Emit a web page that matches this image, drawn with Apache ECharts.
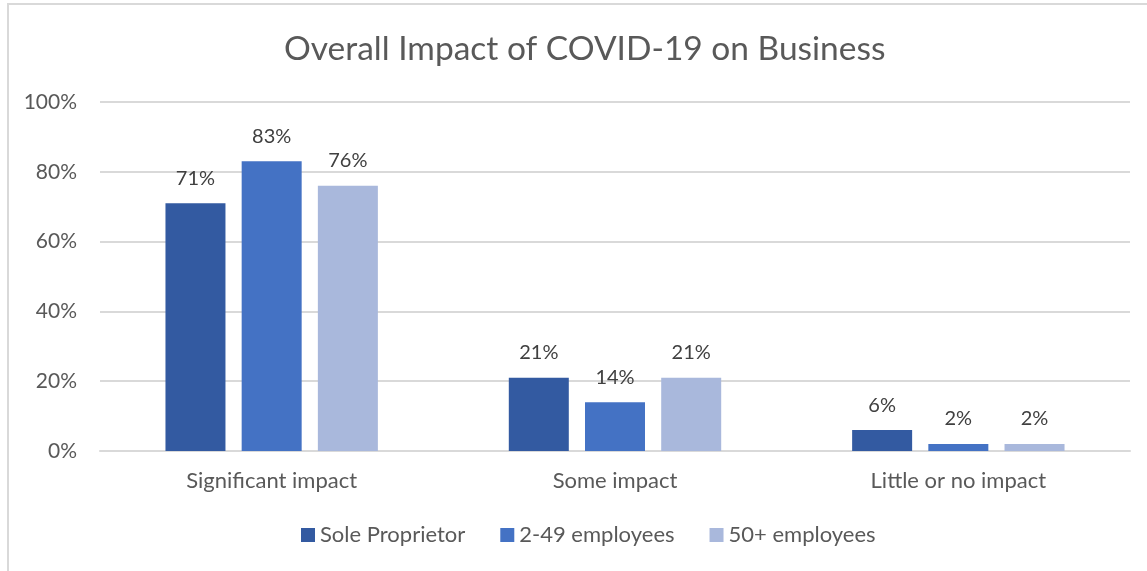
<!DOCTYPE html>
<html>
<head>
<meta charset="utf-8">
<script src="https://cdn.jsdelivr.net/npm/echarts@6/dist/echarts.min.js"></script>
<style>
  html, body { margin: 0; padding: 0; background: #fff; }
  #frame { position: absolute; left: 7px; top: 3px; width: 1150px; height: 580px; border: 2px solid #d9d9d9; box-sizing: border-box; }
  #chart { position: absolute; left: 0; top: 0; width: 1147px; height: 571px; }
</style>
</head>
<body>
<div id="frame"></div>
<div id="chart"></div>
<script>
const categories = ['Significant impact', 'Some impact', 'Little or no impact'];
const seriesNames = ['Sole Proprietor', '2-49 employees', '50+ employees'];
const soleProprietor = [71, 21, 6];
const employees2to49 = [83, 14, 2];
const employees50plus = [76, 21, 2];
const yTicks = [0, 20, 40, 60, 80, 100];

const colors = ['#335AA1', '#4472C4', '#A9B8DC'];
const font = 'Lato, "Open Sans", sans-serif';
const textColor = '#595959';

const chart = echarts.init(document.getElementById('chart'), null, { renderer: 'canvas' });

const makeSeries = (name, data, i) => ({
  name,
  type: 'bar',
  data,
  barWidth: 60,
  barGap: '27%',
  itemStyle: { color: colors[i] },
  label: {
    show: true,
    position: 'top',
    distance: 15,
    formatter: p => p.value + '%',
    color: '#404040',
    fontFamily: font,
    fontSize: 20
  }
});

chart.setOption({
  animation: false,
  backgroundColor: 'transparent',
  title: {
    text: 'Overall Impact of COVID-19 on Business',
    left: 279,
    top: 27,
    textStyle: { fontFamily: font, fontSize: 33.5, fontWeight: 'normal', color: textColor }
  },
  legend: {
    bottom: 20,
    left: 296,
    itemWidth: 14,
    itemHeight: 14,
    itemGap: 35,
    icon: 'rect',
    textStyle: { fontFamily: font, fontSize: 22, color: textColor, padding: [0, 0, 0, 0] },
    data: seriesNames
  },
  grid: { left: 100, right: 17, top: 102, bottom: 120 },
  xAxis: {
    type: 'category',
    data: categories,
    axisLine: { lineStyle: { color: '#d9d9d9', width: 2 } },
    axisTick: { show: false },
    axisLabel: { fontFamily: font, fontSize: 22, color: textColor, margin: 19 }
  },
  yAxis: {
    type: 'value',
    min: yTicks[0],
    max: yTicks[yTicks.length - 1],
    interval: 20,
    axisLine: { show: false },
    axisTick: { show: false },
    splitLine: { lineStyle: { color: '#d9d9d9', width: 2 } },
    axisLabel: { fontFamily: font, fontSize: 21, color: textColor, margin: 23, formatter: v => v + '%' }
  },
  series: [
    makeSeries(seriesNames[0], soleProprietor, 0),
    makeSeries(seriesNames[1], employees2to49, 1),
    makeSeries(seriesNames[2], employees50plus, 2)
  ]
});
</script>
</body>
</html>
